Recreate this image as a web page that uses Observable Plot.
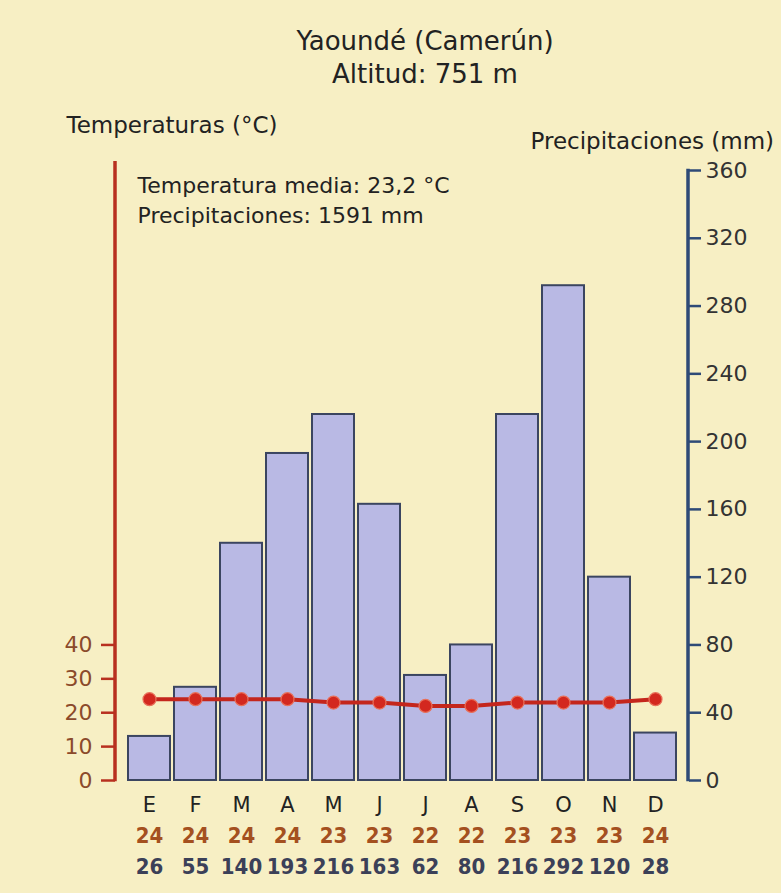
<!DOCTYPE html>
<html>
<head>
<meta charset="utf-8">
<script src="https://cdn.jsdelivr.net/npm/d3@7"></script>
<script src="https://cdn.jsdelivr.net/npm/@observablehq/plot@0.6"></script>
<style>
  html, body { margin: 0; padding: 0; background: #f7efc4; }
  #chart { width: 781px; height: 893px; overflow: hidden; }
</style>
</head>
<body>
<div id="chart"></div>
<script>
// ---- Data ----
const months = ["E","F","M","A","M","J","J","A","S","O","N","D"];
const temperatures = [24, 24, 24, 24, 23, 23, 22, 22, 23, 23, 23, 24];      // °C
const precipitation = [26, 55, 140, 193, 216, 163, 62, 80, 216, 292, 120, 28]; // mm
const precipTicks = [0, 40, 80, 120, 160, 200, 240, 280, 320, 360];
const tempTicks = [0, 10, 20, 30, 40];
const titleLine1 = "Yaoundé (Camerún)";
const titleLine2 = "Altitud: 751 m";
const leftTitle = "Temperaturas (°C)";
const rightTitle = "Precipitaciones (mm)";
const meanTemp = 23.2;
const totalPrecip = 1591;
const tempFactor = 2; // 1 °C drawn as 2 mm (climograma convention)

const data = months.map((m, i) => ({i, m, t: temperatures[i], p: precipitation[i]}));

const RED = "#b8301f";
const BLUE = "#2e4a77";
const FONT = "DejaVu Sans, Liberation Sans, sans-serif";
const NARROW = "Liberation Sans Narrow, DejaVu Sans Condensed, Liberation Sans, sans-serif";

const axisLines = (index, scales, values, dims) => {
  const g = d3.create("svg:g");
  const xl = dims.marginLeft, xr = dims.width - dims.marginRight;
  const y0 = scales.y(0);
  g.append("line").attr("x1", xl).attr("x2", xl)
    .attr("y1", y0 + 1.25).attr("y2", dims.marginTop - 9)
    .attr("stroke", RED).attr("stroke-width", 3.5);
  g.append("line").attr("x1", xr).attr("x2", xr)
    .attr("y1", y0 + 1.25).attr("y2", scales.y(d3.max(precipTicks)) - 1.25)
    .attr("stroke", BLUE).attr("stroke-width", 3.5);
  return g.node();
};

const txt = {lineAnchor: "middle", fill: "#222"};

const chart = Plot.plot({
  width: 781,
  height: 893,
  marginTop: 170,
  marginBottom: 113,
  marginLeft: 115,
  marginRight: 93,
  style: {background: "#f7efc4", fontFamily: FONT, color: "#2a2a2a"},
  x: {type: "band", domain: d3.range(months.length), paddingInner: 0.09, paddingOuter: 0.22, axis: null},
  y: {domain: [0, d3.max(precipTicks)], axis: null},
  marks: [
    Plot.barY(data, {x: "i", y: "p", fill: "#b9b9e4", stroke: "#3b4560", strokeWidth: 2}),
    Plot.lineY(data, {x: "i", y: d => d.t * tempFactor, stroke: "#c4261c", strokeWidth: 4}),
    Plot.dot(data, {x: "i", y: d => d.t * tempFactor, r: 6.5, fill: "#d3281f", stroke: "#e8705a", strokeWidth: 1.2}),
    Plot.axisY({anchor: "right", label: null, ticks: precipTicks, tickSize: 12, tickPadding: 5, stroke: BLUE, strokeWidth: 2.5,
      fill: "#333", fontSize: 22, tickFormat: d => d}),
    Plot.axisY({anchor: "left", label: null, ticks: tempTicks.map(t => t * tempFactor), tickSize: 14, tickPadding: 9,
      stroke: RED, strokeWidth: 2.5, fill: "#8b4a2b", fontSize: 22, tickFormat: d => d / tempFactor}),
    axisLines,
    // bottom rows
    Plot.text(data, {...txt, x: "i", text: "m", frameAnchor: "bottom", dy: 25, fontSize: 21}),
    Plot.text(data, {...txt, x: "i", text: d => String(d.t), frameAnchor: "bottom", dy: 55, fontSize: 22,
      fontWeight: "bold", fontFamily: NARROW, fill: "#a4501f"}),
    Plot.text(data, {...txt, x: "i", text: d => String(d.p), frameAnchor: "bottom", dy: 86, fontSize: 22,
      fontWeight: "bold", fontFamily: NARROW, fill: "#3b4058"}),
    // titles
    Plot.text([titleLine1], {...txt, frameAnchor: "top", dx: 23, dy: -129, fontSize: 26, letterSpacing: 1.3}),
    Plot.text([titleLine2], {...txt, frameAnchor: "top", dx: 23, dy: -96, fontSize: 26, letterSpacing: 1.3}),
    Plot.text([leftTitle], {...txt, frameAnchor: "top-left", textAnchor: "start", dx: -49, dy: -45, fontSize: 23}),
    Plot.text([rightTitle], {...txt, frameAnchor: "top-right", textAnchor: "start", dx: -158, dy: -29, fontSize: 23, letterSpacing: 0.3}),
    Plot.text([`Temperatura media: ${String(meanTemp).replace(".", ",")} °C`], {...txt, frameAnchor: "top-left", textAnchor: "start", dx: 22, dy: 15, fontSize: 22, letterSpacing: 0.9}),
    Plot.text([`Precipitaciones: ${totalPrecip} mm`], {...txt, frameAnchor: "top-left", textAnchor: "start", dx: 22, dy: 45, fontSize: 22, letterSpacing: 1.1})
  ]
});

document.getElementById("chart").appendChild(chart);
</script>
</body>
</html>
